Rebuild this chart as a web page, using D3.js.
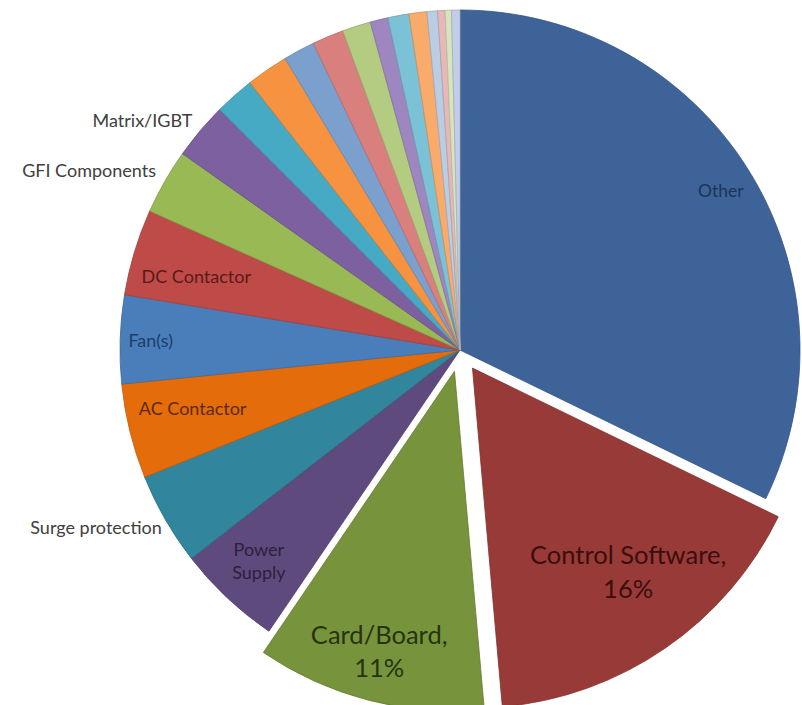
<!DOCTYPE html>
<html>
<head>
<meta charset="utf-8">
<script src="https://cdn.jsdelivr.net/npm/d3@7"></script>
<style>
  html, body { margin: 0; padding: 0; background: #ffffff; }
  svg { display: block; }
</style>
</head>
<body>
<svg id="chart" width="802" height="705"></svg>
<script>
// ---- data (percent of failures) ----
const categories = [
  "Other", "Control Software", "Card/Board", "Power Supply", "Surge protection",
  "AC Contactor", "Fan(s)", "DC Contactor", "GFI Components", "Matrix/IGBT",
  "", "", "", "", "", "", "", "", "", "", "", ""
];
const values = [
  32.2, 16.4, 10.9, 5.0, 4.4,
  4.5, 4.2, 4.1, 3.1, 2.7,
  1.9, 2.0, 1.5, 1.5, 1.35, 0.85, 1.0, 0.85, 0.5, 0.35, 0.3, 0.4
];
const dataLabels = [
  "Other", "Control Software,\n16%", "Card/Board,\n11%", "Power\nSupply", "Surge protection",
  "AC Contactor", "Fan(s)", "DC Contactor", "GFI Components", "Matrix/IGBT",
  "", "", "", "", "", "", "", "", "", "", "", ""
];

// ---- styling ----
const colors = [
  "#3D6399", "#983A37", "#77933C", "#5F4A7D", "#31859C",
  "#E46C0A", "#4A7EBB", "#BE4B48", "#98B954", "#7D60A0",
  "#46AAC5", "#F69240", "#7BA0CD", "#D9807E", "#B3CC82", "#9E86C0",
  "#7CC2D6", "#F9AB6B", "#B9CDE5", "#E6B9B8", "#D7E4BD", "#C4CDE8"
];
const textColors = {
  "Other": "#1c3557", "Control Software": "#3a0e0d", "Card/Board": "#26330f",
  "Power Supply": "#2b1f3d", "AC Contactor": "#5c2b04", "Fan(s)": "#1e3d66",
  "DC Contactor": "#5a1a18"
};
const exploded = { "Control Software": 22, "Card/Board": 22 };
const inside = {
  "Other":            {r: 0.905, size: 17.5, dx: 0,  dy: 4},
  "Control Software": {r: 0.75,  size: 25.5, dx: 11, dy: -6},
  "Card/Board":       {r: 0.88,  size: 25.5, dx: 0,  dy: -9},
  "Power Supply":     {r: 0.86,  size: 18,   dx: -1, dy: -2},
  "AC Contactor":     {r: 0.81,  size: 18,   dx: 0,  dy: -7},
  "Fan(s)":           {r: 0.91,  size: 18,   dx: 0,  dy: 0},
  "DC Contactor":     {r: 0.81,  size: 18,   dx: 0,  dy: 6}
};
const outside = {
  "Surge protection": {r: 344, dy: 6},
  "GFI Components":   {r: 350, dy: -6},
  "Matrix/IGBT":      {r: 350, dy: -4}
};
const FONT = "Lato, 'Open Sans', sans-serif";

const cx = 460, cy = 350, R = 340;
const svg = d3.select("#chart");
const g = svg.append("g").attr("transform", `translate(${cx},${cy})`);

const pie = d3.pie().sort(null).value(d => d.v).startAngle(0).endAngle(2 * Math.PI);
const items = categories.map((c, i) => ({ c, v: values[i], label: dataLabels[i], color: colors[i] }));
const arcs = pie(items);
const arc = d3.arc().innerRadius(0).outerRadius(R);

function offset(d) {
  const e = exploded[d.data.c] || 0;
  const a = (d.startAngle + d.endAngle) / 2;
  return [Math.sin(a) * e, -Math.cos(a) * e];
}

const slices = g.selectAll("g.slice").data(arcs).enter().append("g")
  .attr("class", "slice")
  .attr("transform", d => `translate(${offset(d)[0]},${offset(d)[1]})`);

slices.append("path")
  .attr("d", arc)
  .attr("fill", d => d.data.color)
  .attr("stroke", d => d3.color(d.data.color).darker(0.5))
  .attr("stroke-width", 0.8)
  .attr("stroke-linejoin", "round");

// inside labels
slices.filter(d => inside[d.data.c]).each(function(d) {
  const cfg = inside[d.data.c];
  const a = (d.startAngle + d.endAngle) / 2;
  const x = Math.sin(a) * R * cfg.r + cfg.dx, y = -Math.cos(a) * R * cfg.r + cfg.dy;
  const lines = d.data.label.split("\n");
  const lh = cfg.size * 1.3;
  const t = d3.select(this).append("text")
    .attr("text-anchor", "middle")
    .attr("font-family", FONT)
    .attr("font-size", cfg.size)
    .attr("fill", textColors[d.data.c] || "#222");
  lines.forEach((ln, i) => {
    t.append("tspan").attr("x", x)
      .attr("y", y + (i - (lines.length - 1) / 2) * lh)
      .attr("dy", "0.35em").text(ln);
  });
});

// outside labels
g.selectAll("text.out").data(arcs.filter(d => outside[d.data.c])).enter().append("text")
  .attr("class", "out")
  .attr("text-anchor", "end")
  .attr("font-family", FONT)
  .attr("font-size", 18)
  .attr("fill", "#404040")
  .attr("x", d => Math.sin((d.startAngle + d.endAngle) / 2) * outside[d.data.c].r)
  .attr("y", d => -Math.cos((d.startAngle + d.endAngle) / 2) * outside[d.data.c].r + outside[d.data.c].dy)
  .attr("dy", "0.35em")
  .text(d => d.data.label);
</script>
</body>
</html>
